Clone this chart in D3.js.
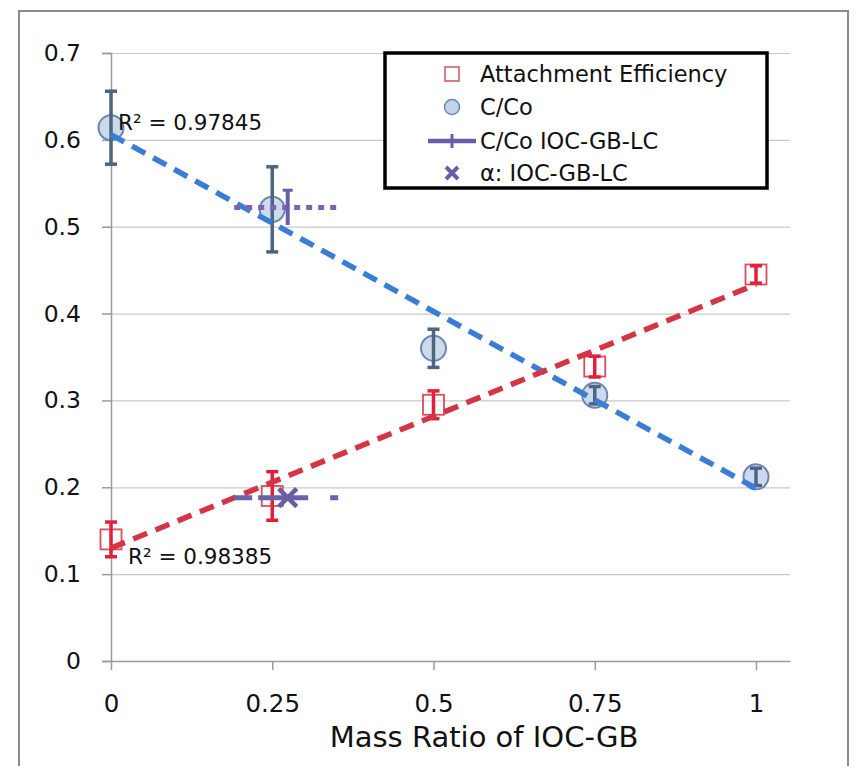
<!DOCTYPE html>
<html>
<head>
<meta charset="utf-8">
<script src="https://cdn.jsdelivr.net/npm/d3@7"></script>
<style>
  body { margin: 0; background: #fff; }
  svg text { font-family: "DejaVu Sans", "Open Sans", sans-serif; fill: #111; }
</style>
</head>
<body>
<div id="chart"></div>
<script>
// mass ratio of IOC-GB
const massRatio = [0, 0.25, 0.5, 0.75, 1];
// attachment efficiency and its error
const attachEff = [0.140, 0.190, 0.295, 0.339, 0.445];
const attachErr = [0.020, 0.028, 0.016, 0.012, 0.010];
// C/Co and its error
const cco = [0.614, 0.520, 0.360, 0.306, 0.212];
const ccoErr = [0.042, 0.049, 0.022, 0.010, 0.010];
// IOC-GB-LC points (one each), with x error
const lcX = [0.274];
const lcXErr = [0.083];
const lcCco = [0.522];
const lcCcoErr = [0.020];
const lcAlpha = [0.188];
const yTicks = [0, 0.1, 0.2, 0.3, 0.4, 0.5, 0.6, 0.7];
const xTicks = [0, 0.25, 0.5, 0.75, 1];
const r2Labels = ["R² = 0.97845", "R² = 0.98385"];
const legendItems = ["Attachment Efficiency", "C/Co", "C/Co IOC-GB-LC", "α: IOC-GB-LC"];

const W = 856, H = 766;
const blue = "#3a7dd6", purple = "#6b5ca6", slate = "#4f6480";

const svg = d3.select("#chart").append("svg")
    .attr("width", W).attr("height", H);

// outer frame
svg.append("rect")
    .attr("x", 19).attr("y", 11).attr("width", 829).attr("height", 770)
    .attr("fill", "none").attr("stroke", "#8a8a8a").attr("stroke-width", 2);

const x = d3.scaleLinear().domain([0, 1.0527]).range([111, 790]);
const y = d3.scaleLinear().domain([0, 0.7]).range([661, 53]);

// gridlines
svg.append("g")
    .attr("transform", "translate(111,0)")
    .call(d3.axisRight(y).tickValues(yTicks.slice(1)).tickSize(679).tickFormat(""))
    .call(g => g.select(".domain").remove())
    .call(g => g.selectAll("line").attr("stroke", "#c9c9c9").attr("stroke-width", 1.2));

// y axis
svg.append("g")
    .attr("transform", "translate(111,0)")
    .call(d3.axisLeft(y).tickValues(yTicks).tickSize(9).tickPadding(21)
        .tickFormat(d => d === 0 ? "0" : d3.format(".1f")(d)))
    .call(g => g.select(".domain").attr("stroke", "#9a9a9a").attr("stroke-width", 1.5))
    .call(g => g.selectAll("line").attr("stroke", "#9a9a9a").attr("stroke-width", 1.5))
    .call(g => g.selectAll("text").attr("font-size", 23.5).attr("font-family", "DejaVu Sans"));

// x axis
svg.append("g")
    .attr("transform", "translate(0,661)")
    .call(d3.axisBottom(x).tickValues(xTicks).tickSize(9).tickPadding(25)
        .tickFormat(d => String(d)).tickSizeOuter(0))
    .call(g => g.select(".domain").attr("stroke", "#9a9a9a").attr("stroke-width", 1.5))
    .call(g => g.selectAll("line").attr("stroke", "#9a9a9a").attr("stroke-width", 1.5))
    .call(g => g.selectAll("text").attr("font-size", 24.5).attr("font-family", "DejaVu Sans"));

svg.append("text")
    .attr("x", 484).attr("y", 747)
    .attr("text-anchor", "middle")
    .attr("font-size", 29)
    .text("Mass Ratio of IOC-GB");

// error bars helper
function vErr(g, cx, cy, e, color, w, cap) {
    g.append("line")
        .attr("x1", x(cx)).attr("x2", x(cx))
        .attr("y1", y(cy + e)).attr("y2", y(cy - e))
        .attr("stroke", color).attr("stroke-width", w);
    [cy + e, cy - e].forEach(v => {
        g.append("line")
            .attr("x1", x(cx) - cap).attr("x2", x(cx) + cap)
            .attr("y1", y(v)).attr("y2", y(v))
            .attr("stroke", color).attr("stroke-width", w);
    });
}

const marks = svg.append("g");

// C/Co circles
massRatio.forEach((m, i) => {
    marks.append("ellipse")
        .attr("cx", x(m)).attr("cy", y(cco[i]))
        .attr("rx", 12.5).attr("ry", 12.5)
        .attr("fill", "#c3d3ea").attr("fill-opacity", 0.85)
        .attr("stroke", "#6c86b0").attr("stroke-width", 2);
    vErr(marks, m, cco[i], ccoErr[i], slate, 3.5, 6);
});

// attachment efficiency squares
massRatio.forEach((m, i) => {
    marks.append("rect")
        .attr("x", x(m) - 10.5).attr("y", y(attachEff[i]) - 10)
        .attr("width", 21).attr("height", 20)
        .attr("fill", "#fff").attr("fill-opacity", 0.4)
        .attr("stroke", "#d4505c").attr("stroke-width", 1.8);
    vErr(marks, m, attachEff[i], attachErr[i], "#e3203a", 3.5, 6);
});

// linear trendlines
function fit(xs, ys) {
    const mx = d3.mean(xs), my = d3.mean(ys);
    const b = d3.sum(xs, (v, i) => (v - mx) * (ys[i] - my)) / d3.sum(xs, v => (v - mx) ** 2);
    return [my - b * mx, b];
}
[[cco, blue], [attachEff, "#d43545"]].forEach(([ys, color]) => {
    const [a, b] = fit(massRatio, ys);
    svg.append("line")
        .attr("x1", x(0)).attr("y1", y(a))
        .attr("x2", x(1)).attr("y2", y(a + b))
        .attr("stroke", color).attr("stroke-width", 5.5)
        .attr("stroke-dasharray", "15,9");
});

// IOC-GB-LC series
const lc = svg.append("g");
lcX.forEach((m, i) => {
    // C/Co IOC-GB-LC
    lc.append("line")
        .attr("x1", x(m - lcXErr[i])).attr("x2", x(m + lcXErr[i]))
        .attr("y1", y(lcCco[i])).attr("y2", y(lcCco[i]))
        .attr("stroke", "#8060b0").attr("stroke-width", 5)
        .attr("stroke-dasharray", "6,6");
    lc.append("line")
        .attr("x1", x(m)).attr("x2", x(m))
        .attr("y1", y(lcCco[i] + lcCcoErr[i])).attr("y2", y(lcCco[i] - lcCcoErr[i]))
        .attr("stroke", purple).attr("stroke-width", 4);
    lc.append("line")
        .attr("x1", x(m) - 5).attr("x2", x(m) + 5)
        .attr("y1", y(lcCco[i] + lcCcoErr[i])).attr("y2", y(lcCco[i] + lcCcoErr[i]))
        .attr("stroke", purple).attr("stroke-width", 3);
    // alpha IOC-GB-LC
    lc.append("line")
        .attr("x1", x(m - lcXErr[i])).attr("x2", x(m + lcXErr[i]))
        .attr("y1", y(lcAlpha[i])).attr("y2", y(lcAlpha[i]))
        .attr("stroke", "#6a62a8").attr("stroke-width", 5)
        .attr("stroke-dasharray", "18,6,50,22,8,100");
    const cx = x(m), cy = y(lcAlpha[i]), s = 9;
    lc.append("path")
        .attr("d", `M${cx - s},${cy - s}L${cx + s},${cy + s}M${cx - s},${cy + s}L${cx + s},${cy - s}`)
        .attr("stroke", purple).attr("stroke-width", 4.5).attr("fill", "none");
});

// R² labels
svg.append("text").attr("x", 118).attr("y", 130).attr("font-size", 21.5).text(r2Labels[0]);
svg.append("text").attr("x", 128).attr("y", 564).attr("font-size", 21.5).text(r2Labels[1]);

// legend
const lg = svg.append("g");
lg.append("rect")
    .attr("x", 385).attr("y", 53).attr("width", 382).attr("height", 135)
    .attr("fill", "#fff").attr("stroke", "#000").attr("stroke-width", 3.5);
const rowY = [74, 107, 141, 173];
legendItems.forEach((t, i) => {
    lg.append("text")
        .attr("x", 480).attr("y", rowY[i]).attr("dy", "0.35em")
        .attr("font-size", 22.5).text(t);
});
lg.append("rect").attr("x", 445).attr("y", rowY[0] - 7).attr("width", 14).attr("height", 14)
    .attr("fill", "#fff").attr("stroke", "#d4505c").attr("stroke-width", 1.5);
lg.append("circle").attr("cx", 452).attr("cy", rowY[1]).attr("r", 7.5)
    .attr("fill", "#c3d3ea").attr("stroke", "#6c86b0").attr("stroke-width", 1.5);
lg.append("line").attr("x1", 428).attr("x2", 476).attr("y1", rowY[2]).attr("y2", rowY[2])
    .attr("stroke", purple).attr("stroke-width", 4.5);
lg.append("line").attr("x1", 452).attr("x2", 452).attr("y1", rowY[2] - 7).attr("y2", rowY[2] + 7)
    .attr("stroke", purple).attr("stroke-width", 3);
lg.append("path")
    .attr("d", `M446,${rowY[3] - 6}L458,${rowY[3] + 6}M446,${rowY[3] + 6}L458,${rowY[3] - 6}`)
    .attr("stroke", purple).attr("stroke-width", 4).attr("fill", "none");
</script>
</body>
</html>
